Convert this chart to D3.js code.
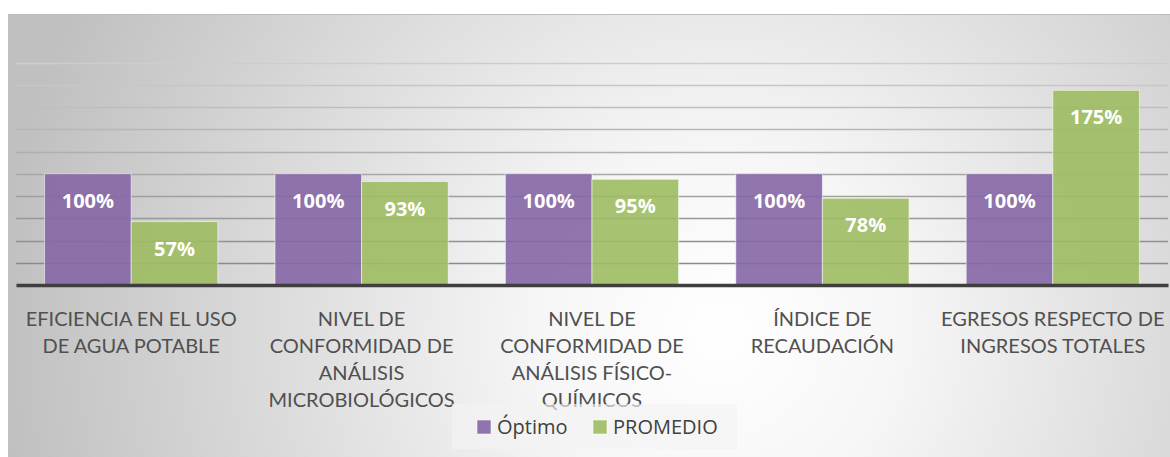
<!DOCTYPE html>
<html>
<head>
<meta charset="utf-8">
<script src="https://cdn.jsdelivr.net/npm/d3@7"></script>
<style>
  html, body { margin: 0; padding: 0; background: #fff; }
  svg { display: block; font-family: "Open Sans", sans-serif; }
</style>
</head>
<body>
<div id="chart"></div>
<script>
// chart values
var categories = ['eficiencia', 'microbiologicos', 'fisicoquimicos', 'recaudacion', 'egresos'];
var categoryLines = [
  ['EFICIENCIA EN EL USO', 'DE AGUA POTABLE'],
  ['NIVEL DE', 'CONFORMIDAD DE', 'ANÁLISIS', 'MICROBIOLÓGICOS'],
  ['NIVEL DE', 'CONFORMIDAD DE', 'ANÁLISIS FÍSICO-', 'QUÍMICOS'],
  ['ÍNDICE DE', 'RECAUDACIÓN'],
  ['EGRESOS RESPECTO DE', 'INGRESOS TOTALES']
];
var seriesNames = ['Óptimo', 'PROMEDIO'];
var optimo = [100, 100, 100, 100, 100];
var promedio = [57, 93, 95, 78, 175];
var gridTicks = [20, 40, 60, 80, 100, 120, 140, 160, 180, 200];

var colors = { 'Óptimo': '#8466a5', 'PROMEDIO': '#9dbb60' };

var W = 1170, H = 457;
var plot = { left: 16, right: 1168, top: 62.5, bottom: 285 };

var svg = d3.select('#chart').append('svg').attr('width', W).attr('height', H);

// background panel with radial shading
var defs = svg.append('defs');
var grad = defs.append('radialGradient').attr('id', 'bg')
  .attr('gradientUnits', 'userSpaceOnUse')
  .attr('cx', 720).attr('cy', 330).attr('r', 720);
grad.append('stop').attr('offset', '0').attr('stop-color', '#ffffff');
grad.append('stop').attr('offset', '0.25').attr('stop-color', '#f6f6f6');
grad.append('stop').attr('offset', '1').attr('stop-color', '#c0c0c0');

svg.append('rect').attr('x', 8).attr('y', 14).attr('width', W - 8).attr('height', H - 14)
  .attr('fill', 'url(#bg)');
svg.append('line').attr('x1', 8).attr('x2', W).attr('y1', 14.5).attr('y2', 14.5)
  .attr('stroke', '#bdbdbd').attr('stroke-width', 1);

var y = d3.scaleLinear().domain([0, 200]).range([plot.bottom, plot.top]);
var x0 = d3.scaleBand().domain(categories).range([plot.left, plot.right]);
var x1 = d3.scaleBand().domain(seriesNames).range([0, x0.bandwidth()]).paddingOuter(0.33);
var gridColor = d3.scaleLinear().domain([20, 200]).range(['#8a8a8a', '#cdcdcd']);

// gridlines
svg.append('g').selectAll('line').data(gridTicks).enter().append('line')
  .attr('x1', plot.left).attr('x2', plot.right)
  .attr('y1', function (d) { return Math.round(y(d)) + 0.5; })
  .attr('y2', function (d) { return Math.round(y(d)) + 0.5; })
  .attr('stroke', function (d) { return gridColor(d); })
  .attr('stroke-width', 1.3);

// bars
var rows = categories.map(function (c, i) {
  return { cat: c, vals: [{ s: 'Óptimo', v: optimo[i] }, { s: 'PROMEDIO', v: promedio[i] }] };
});
var groups = svg.append('g').selectAll('g').data(rows).enter().append('g')
  .attr('transform', function (d) { return 'translate(' + x0(d.cat) + ',0)'; });

groups.selectAll('rect').data(function (d) { return d.vals; }).enter().append('rect')
  .attr('x', function (d) { return x1(d.s); })
  .attr('width', x1.bandwidth())
  .attr('y', function (d) { return y(d.v); })
  .attr('height', function (d) { return y(0) - y(d.v); })
  .attr('fill', function (d) { return colors[d.s]; })
  .attr('fill-opacity', 0.9)
  .attr('stroke', 'rgba(255,255,255,0.55)')
  .attr('stroke-width', 1);

groups.selectAll('text').data(function (d) { return d.vals; }).enter().append('text')
  .attr('x', function (d) { return x1(d.s) + x1.bandwidth() / 2; })
  .attr('y', function (d) { return y(d.v) + 27; })
  .attr('dy', '0.35em')
  .attr('text-anchor', 'middle')
  .attr('fill', '#ffffff')
  .attr('font-size', 20)
  .attr('font-weight', 700)
  .text(function (d) { return d.v + '%'; });

// category axis
var xAxis = svg.append('g').attr('transform', 'translate(0,' + plot.bottom + ')')
  .call(d3.axisBottom(x0).tickSize(0).tickFormat(''));
xAxis.select('.domain').attr('stroke', '#3f3f3f').attr('stroke-width', 3.5);

xAxis.selectAll('.tick').each(function (d, i) {
  var t = d3.select(this).append('text')
    .attr('text-anchor', 'middle')
    .attr('fill', '#505050')
    .attr('font-family', 'Lato, sans-serif')
    .attr('font-size', 20);
  categoryLines[i].forEach(function (line, k) {
    t.append('tspan').attr('x', 0).attr('y', 41 + k * 27).text(line);
  });
});

// legend
var legend = svg.append('g');
legend.append('rect').attr('x', 452).attr('y', 404).attr('width', 285).attr('height', 45)
  .attr('fill', '#f2f2f2').attr('fill-opacity', 0.65);
var legendX = [477, 593];
seriesNames.forEach(function (s, i) {
  legend.append('rect').attr('x', legendX[i]).attr('y', 420).attr('width', 14).attr('height', 14)
    .attr('fill', colors[s]).attr('fill-opacity', 0.9)
    .attr('stroke', 'rgba(255,255,255,0.55)');
  legend.append('text').attr('x', legendX[i] + 20).attr('y', 427).attr('dy', '0.35em')
    .attr('fill', '#404040').attr('font-size', 20).text(s);
});
</script>
</body>
</html>
